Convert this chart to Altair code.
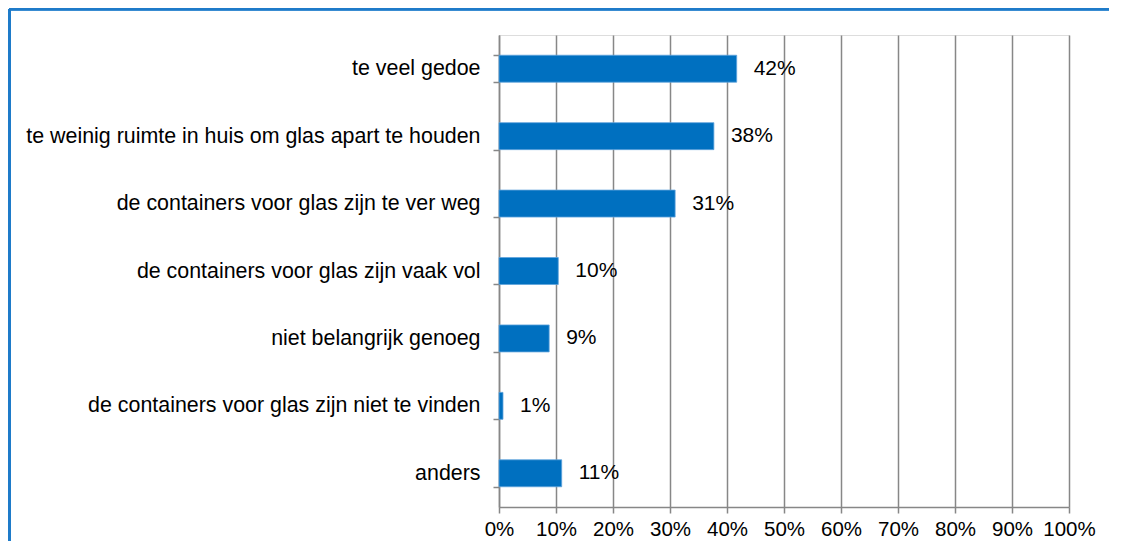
import altair as alt
import pandas as pd

categories = [
    "te veel gedoe",
    "te weinig ruimte in huis om glas apart te houden",
    "de containers voor glas zijn te ver weg",
    "de containers voor glas zijn vaak vol",
    "niet belangrijk genoeg",
    "de containers voor glas zijn niet te vinden",
    "anders",
]
values = [0.417, 0.377, 0.309, 0.104, 0.088, 0.007, 0.110]
tick_values = [0, 0.1, 0.2, 0.3, 0.4, 0.5, 0.6, 0.7, 0.8, 0.9, 1.0]

df = pd.DataFrame({"cat": categories, "val": values})

FONT = "Liberation Sans"
GRAY = "#878787"
BLUE = "#0070C0"

y_enc = alt.Y(
    "cat:N",
    sort=categories,
    title=None,
    scale=alt.Scale(paddingInner=0.6, paddingOuter=0.3),
    axis=alt.Axis(
        tickBand="extent",
        tickSize=6,
        tickColor=GRAY,
        tickWidth=1.5,
        domainColor=GRAY,
        domainWidth=1.5,
        labelPadding=13,
        labelFontSize=21.4,
        labelFont=FONT,
        labelColor="#000000",
        labelLimit=700,
        grid=False,
    ),
)
x_enc = alt.X(
    "val:Q",
    title=None,
    scale=alt.Scale(domain=[0, 1], nice=False),
    axis=alt.Axis(
        values=tick_values,
        format=".0%",
        grid=True,
        gridColor=GRAY,
        gridWidth=1.5,
        tickSize=6,
        tickColor=GRAY,
        tickWidth=1.5,
        domainColor=GRAY,
        domainWidth=1.5,
        labelPadding=6,
        labelFontSize=20.5,
        labelFont=FONT,
        labelColor="#000000",
        labelFlush=False,
    ),
)

bars = alt.Chart(df).mark_bar(color=BLUE, stroke="#5fa3dc", strokeWidth=0.8).encode(x=x_enc, y=y_enc)
labels = alt.Chart(df).mark_text(
    align="left", baseline="middle", dx=17, fontSize=21, font=FONT, color="#000000"
).encode(x="val:Q", y=alt.Y("cat:N", sort=categories), text=alt.Text("val:Q", format=".0%"))

border_left = alt.Chart(df).mark_rule(color="#1F7BC9", strokeWidth=2.5).encode(
    x=alt.value(-489.5), y=alt.value(-26), y2=alt.value(600)
)
border_top = alt.Chart(df).mark_rule(color="#1F7BC9", strokeWidth=2.5).encode(
    x=alt.value(-489.5), x2=alt.value(700), y=alt.value(-26)
)

chart = (
    alt.layer(bars, labels, border_left, border_top)
    .properties(
        width=570,
        height=472,
        autosize=alt.AutoSizeParams(type="none"),
        padding={"left": 491, "top": 27, "right": 40, "bottom": 34},
    )
    .configure_view(stroke=None)
    .configure(background="white")
)

chart.save("out.html", embed_options={"renderer": "svg", "actions": False})
